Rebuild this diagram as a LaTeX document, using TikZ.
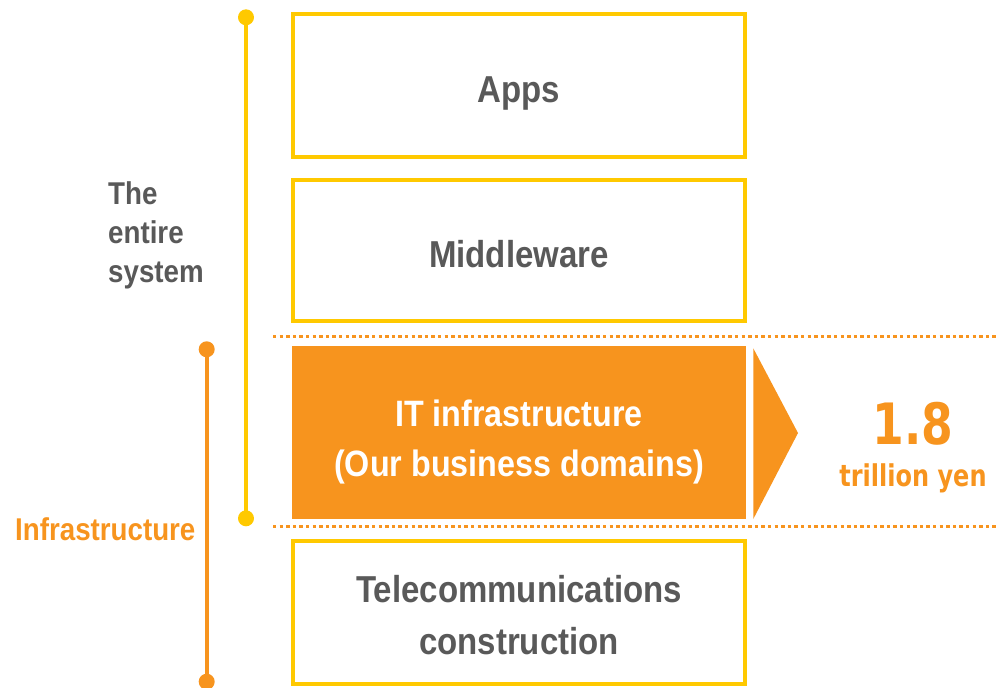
\documentclass[tikz,border=0pt]{standalone}
\usepackage{fontspec}
\usepackage{tikz}
\usetikzlibrary{arrows,calc,positioning}
\tikzset{>=latex}
\newfontfamily\boxfont[FakeStretch=0.88]{Liberation Sans}
\newfontfamily\numfont[FakeStretch=0.8]{DejaVu Sans}
\definecolor{layeryellow}{RGB}{255,201,0}
\definecolor{infraorange}{RGB}{247,148,30}
\definecolor{labelgray}{RGB}{89,89,89}
\tikzset{
  layer/.style={draw=layeryellow, line width=4pt, minimum width=452.6pt, inner sep=0pt},
  layertext/.style={align=center, inner sep=0pt, text=labelgray, font=\boxfont\bfseries\fontsize{37.5}{52}\selectfont},
  bracket/.style={line width=4pt},
  limit/.style={infraorange, line width=3.3pt, dash pattern=on 3.3pt off 3.3pt}
}

\begin{document}
\begin{tikzpicture}[x=1pt, y=-1pt]
    \useasboundingbox (0,0) rectangle (999,688);
    % layers
    \node[layer, minimum height=143.3pt] (A) at (519,85.7) {};
    \node[layertext] (At) at ([yshift=-8pt]A.center) {Apps};
    \node[layer, minimum height=141.6pt] (M) at (519,250.5) {};
    \node[layertext] (Mt) at ([yshift=-4pt]M.center) {Middleware};
    \node[fill=infraorange, minimum width=454pt, minimum height=173pt, inner sep=0pt] (I) at (519,432.5) {};
    \node[layertext, text=white, font=\boxfont\bfseries\fontsize{36.7}{50}\selectfont] (It) at ([yshift=-9.5pt]I.center) {IT infrastructure\\(Our business domains)};
    \node[layer, minimum height=142.7pt] (T) at (519,612.7) {};
    \node[layertext] (Tt) at ([yshift=-2.5pt]T.center) {Telecommunications\\construction};
    % market size
    \fill[infraorange] (753.3,348.3) -- (798,433) -- (753.3,519) -- cycle;
    \node[text=infraorange, font=\numfont\bfseries\fontsize{57}{60}\selectfont] (S) at (913,424) {1.8};
    \node[text=infraorange, font=\numfont\bfseries\fontsize{30}{34}\selectfont, below=11pt of S] (Y) {trillion yen};
    % scope of infrastructure
    \coordinate (L1) at (273,336.7);
    \coordinate (R1) at (999,336.7);
    \coordinate (L2) at (273,526.7);
    \coordinate (R2) at (999,526.7);
    \draw[limit] (L1) -- (R1);
    \draw[limit] (L2) -- (R2);
    % brackets
    \coordinate (E1) at (246,17.3);
    \coordinate (E2) at (246,518.3);
    \coordinate (F1) at (206.7,349.3);
    \coordinate (F2) at (206.7,681.7);
    \draw[bracket, layeryellow] (E1) -- (E2);
    \fill[layeryellow] (E1) circle (8) (E2) circle (8);
    \draw[bracket, infraorange] (F1) -- (F2);
    \fill[infraorange] (F1) circle (8) (F2) circle (8);
    \node[anchor=west, align=left, inner sep=0pt, text=labelgray,
      font=\boxfont\bfseries\fontsize{31.5}{39}\selectfont] (W) at (108,235) {The\\entire\\system};
    \node[anchor=west, inner sep=0pt, text=infraorange,
      font=\boxfont\bfseries\fontsize{31.5}{39}\selectfont] (N) at (15,529) {Infrastructure};
\end{tikzpicture}
\end{document}
